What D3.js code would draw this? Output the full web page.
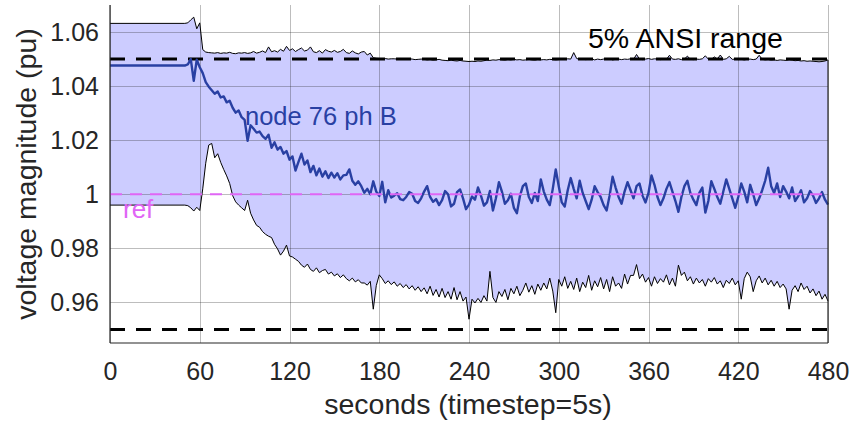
<!DOCTYPE html>
<html>
<head>
<meta charset="utf-8">
<script src="https://cdn.jsdelivr.net/npm/d3@7"></script>
<style>
  body { margin: 0; background: #fff; }
  svg { display: block; }
</style>
</head>
<body>
<div id="chart"></div>
<script>
// ── DATA ──────────────────────────────────────────────────────────────────
// time (s): first sample, then every 2 s from 50 to 480
const time = [0].concat(d3.range(50, 481, 2));

// max voltage over all nodes
const upper = [1.0632,
  1.0632, 1.0634, 1.0645, 1.0655, 1.0612, 1.0634, 1.0535, 1.0526, 1.0524, 1.0523,
  1.0522, 1.0524, 1.0521, 1.0523, 1.0522, 1.0525, 1.0521, 1.0520, 1.0523, 1.0522,
  1.0524, 1.0521, 1.0523, 1.0528, 1.0522, 1.0525, 1.0530, 1.0524, 1.0545, 1.0527,
  1.0531, 1.0526, 1.0536, 1.0529, 1.0547, 1.0532, 1.0538, 1.0528, 1.0535, 1.0541,
  1.0530, 1.0533, 1.0545, 1.0527, 1.0524, 1.0531, 1.0522, 1.0535, 1.0529, 1.0526,
  1.0532, 1.0525, 1.0528, 1.0536, 1.0524, 1.0521, 1.0530, 1.0523, 1.0519, 1.0526,
  1.0528, 1.0515, 1.0522, 1.0505, 1.0503, 1.0502, 1.0501, 1.0502, 1.0500, 1.0501,
  1.0501, 1.0500, 1.0502, 1.0500, 1.0499, 1.0501, 1.0500, 1.0498, 1.0499, 1.0500,
  1.0499, 1.0497, 1.0498, 1.0496, 1.0497, 1.0499, 1.0496, 1.0495, 1.0494, 1.0496,
  1.0494, 1.0493, 1.0495, 1.0493, 1.0492, 1.0491, 1.0492, 1.0491, 1.0493, 1.0492,
  1.0494, 1.0496, 1.0495, 1.0497, 1.0496, 1.0498, 1.0497, 1.0496, 1.0498, 1.0497,
  1.0499, 1.0497, 1.0498, 1.0496, 1.0497, 1.0499, 1.0497, 1.0496, 1.0498, 1.0497,
  1.0498, 1.0497, 1.0499, 1.0498, 1.0497, 1.0498, 1.0500, 1.0499, 1.0501, 1.0500,
  1.0524, 1.0502, 1.0499, 1.0500, 1.0498, 1.0499, 1.0501, 1.0497, 1.0500, 1.0498,
  1.0500, 1.0499, 1.0501, 1.0497, 1.0499, 1.0500, 1.0498, 1.0500, 1.0499, 1.0501,
  1.0499, 1.0517, 1.0500, 1.0498, 1.0500, 1.0502, 1.0499, 1.0501, 1.0500, 1.0498,
  1.0501, 1.0499, 1.0514, 1.0500, 1.0499, 1.0501, 1.0498, 1.0500, 1.0511, 1.0499,
  1.0498, 1.0500, 1.0499, 1.0501, 1.0512, 1.0500, 1.0499, 1.0508, 1.0500, 1.0515,
  1.0499, 1.0501, 1.0510, 1.0499, 1.0500, 1.0498, 1.0499, 1.0497, 1.0499, 1.0500,
  1.0498, 1.0500, 1.0514, 1.0499, 1.0497, 1.0498, 1.0496, 1.0497, 1.0495, 1.0497,
  1.0496, 1.0495, 1.0497, 1.0496, 1.0494, 1.0495, 1.0493, 1.0494, 1.0492, 1.0493,
  1.0492, 1.0491, 1.0490, 1.0491, 1.0493, 1.0497];

// min voltage over all nodes
const lower = [0.9960,
  0.9960, 0.9958, 0.9950, 0.9938, 0.9952, 0.9940, 1.0020, 1.0115, 1.0182, 1.0188,
  1.0135, 1.0150, 1.0118, 1.0092, 1.0068, 1.0040, 0.9995, 0.9972, 0.9960, 0.9950,
  0.9940, 0.9978, 0.9930, 0.9905, 0.9885, 0.9878, 0.9862, 0.9852, 0.9845, 0.9840,
  0.9815, 0.9798, 0.9775, 0.9790, 0.9812, 0.9772, 0.9768, 0.9760, 0.9752, 0.9738,
  0.9730, 0.9742, 0.9722, 0.9715, 0.9728, 0.9710, 0.9718, 0.9722, 0.9705, 0.9712,
  0.9698, 0.9706, 0.9692, 0.9702, 0.9688, 0.9680, 0.9690, 0.9676, 0.9684, 0.9672,
  0.9672, 0.9664, 0.9678, 0.9575, 0.9662, 0.9702, 0.9688, 0.9670, 0.9680, 0.9666,
  0.9676, 0.9660, 0.9670, 0.9655, 0.9666, 0.9650, 0.9662, 0.9645, 0.9658, 0.9640,
  0.9654, 0.9632, 0.9660, 0.9626, 0.9648, 0.9620, 0.9652, 0.9618, 0.9640, 0.9612,
  0.9655, 0.9610, 0.9640, 0.9605, 0.9620, 0.9538, 0.9612, 0.9598, 0.9615, 0.9600,
  0.9625, 0.9605, 0.9715, 0.9618, 0.9600, 0.9640, 0.9622, 0.9648, 0.9610, 0.9652,
  0.9632, 0.9660, 0.9625, 0.9645, 0.9672, 0.9638, 0.9662, 0.9630, 0.9668, 0.9645,
  0.9672, 0.9650, 0.9690, 0.9642, 0.9562, 0.9685, 0.9660, 0.9695, 0.9652, 0.9678,
  0.9648, 0.9690, 0.9640, 0.9675, 0.9655, 0.9700, 0.9645, 0.9680, 0.9658, 0.9692,
  0.9650, 0.9685, 0.9640, 0.9695, 0.9660, 0.9672, 0.9652, 0.9705, 0.9668, 0.9700,
  0.9700, 0.9740, 0.9688, 0.9705, 0.9675, 0.9692, 0.9660, 0.9695, 0.9670, 0.9688,
  0.9675, 0.9702, 0.9665, 0.9690, 0.9660, 0.9738, 0.9700, 0.9712, 0.9680, 0.9695,
  0.9668, 0.9690, 0.9672, 0.9685, 0.9660, 0.9688, 0.9675, 0.9692, 0.9668, 0.9680,
  0.9655, 0.9682, 0.9670, 0.9690, 0.9665, 0.9680, 0.9612, 0.9688, 0.9712, 0.9695,
  0.9640, 0.9680, 0.9698, 0.9672, 0.9690, 0.9665, 0.9682, 0.9660, 0.9678, 0.9655,
  0.9668, 0.9650, 0.9575, 0.9645, 0.9662, 0.9640, 0.9672, 0.9648, 0.9660, 0.9635,
  0.9650, 0.9625, 0.9642, 0.9612, 0.9630, 0.9605];

// node 76 phase B
const node76 = [1.0476,
  1.0476, 1.0480, 1.0500, 1.0420, 1.0498, 1.0470, 1.0448, 1.0415, 1.0398, 1.0385,
  1.0372, 1.0380, 1.0358, 1.0362, 1.0340, 1.0346, 1.0320, 1.0302, 1.0310, 1.0285,
  1.0275, 1.0198, 1.0255, 1.0242, 1.0228, 1.0232, 1.0215, 1.0205, 1.0220, 1.0172,
  1.0192, 1.0165, 1.0175, 1.0150, 1.0160, 1.0128, 1.0140, 1.0088, 1.0120, 1.0150,
  1.0110, 1.0125, 1.0082, 1.0105, 1.0070, 1.0095, 1.0065, 1.0085, 1.0060, 1.0080,
  1.0062, 1.0078, 1.0055, 1.0070, 1.0072, 1.0092, 1.0050, 1.0035, 1.0048, 1.0030,
  1.0006, 1.0020, 1.0000, 1.0048, 1.0010, 0.9994, 1.0046, 0.9970, 1.0015, 0.9988,
  0.9995, 1.0004, 0.9982, 0.9978, 0.9990, 1.0008, 1.0002, 0.9975, 0.9968, 0.9985,
  1.0010, 1.0030, 0.9990, 0.9972, 0.9982, 0.9960, 0.9978, 1.0012, 1.0000, 0.9955,
  0.9965, 1.0008, 1.0018, 0.9985, 0.9945, 0.9962, 0.9992, 0.9980, 1.0025, 0.9995,
  0.9958, 0.9970, 1.0012, 0.9940, 0.9985, 1.0045, 1.0010, 0.9965, 0.9978, 1.0002,
  0.9950, 0.9930, 0.9992, 1.0030, 1.0040, 0.9990, 0.9968, 1.0005, 0.9975, 1.0055,
  1.0010, 0.9980, 0.9960, 1.0020, 1.0092, 1.0030, 0.9970, 0.9955, 1.0015, 1.0060,
  1.0020, 0.9985, 1.0050, 1.0005, 0.9975, 0.9945, 0.9980, 1.0030, 1.0008, 0.9990,
  0.9960, 0.9940, 0.9995, 1.0065, 1.0025, 0.9990, 0.9965, 1.0010, 1.0045, 1.0015,
  0.9985, 1.0030, 1.0040, 0.9995, 0.9970, 1.0005, 1.0070, 1.0035, 0.9990, 0.9960,
  0.9985, 1.0020, 1.0045, 1.0010, 0.9975, 0.9935, 0.9990, 1.0030, 1.0050, 1.0005,
  0.9980, 0.9960, 1.0005, 1.0025, 0.9932, 0.9975, 1.0048, 1.0020, 0.9990, 0.9965,
  1.0010, 1.0055, 1.0020, 0.9985, 0.9950, 0.9990, 1.0040, 1.0010, 0.9970, 1.0035,
  1.0000, 0.9960, 0.9985, 1.0015, 1.0050, 1.0098, 1.0030, 1.0005, 1.0040, 0.9990,
  1.0030, 1.0010, 0.9985, 1.0025, 0.9975, 0.9992, 1.0015, 0.9970, 0.9985, 1.0012,
  0.9995, 0.9968, 0.9985, 1.0008, 0.9980, 0.9962];

const ansiLimits = [0.95, 1.05];
const refValue = 1.0;
const xTicks = [0, 60, 120, 180, 240, 300, 360, 420, 480];
const yTicks = [0.96, 0.98, 1.0, 1.02, 1.04, 1.06];
const yTickLabels = ['0.96', '0.98', '1', '1.02', '1.04', '1.06'];

// ── CHART ─────────────────────────────────────────────────────────────────
const W = 852, H = 424;
const M = { left: 110, right: 24, top: 5, bottom: 81 };
const FONT = 'Liberation Sans, Arial, Helvetica, sans-serif';
const INK = '#262626';

const svg = d3.select('#chart').append('svg').attr('width', W).attr('height', H);

const x = d3.scaleLinear().domain([0, 480]).range([M.left, W - M.right]);
const y = d3.scaleLinear().domain([0.945, 1.07]).range([H - M.bottom, M.top]);

const pts = (vals) => time.map((t, i) => [t, vals[i]]);

// envelope fill
const band = time.map((t, i) => ({ t, lo: lower[i], hi: upper[i] }));
svg.append('path').datum(band)
  .attr('d', d3.area().x(d => x(d.t)).y0(d => y(d.lo)).y1(d => y(d.hi)))
  .attr('fill', '#ccccff');

// grid (drawn on top, semi transparent)
const grid = svg.append('g').attr('stroke', INK).attr('stroke-opacity', 0.3).attr('stroke-width', 1);
xTicks.forEach(v => grid.append('line')
  .attr('x1', Math.round(x(v)) + 0.5).attr('x2', Math.round(x(v)) + 0.5)
  .attr('y1', y.range()[1]).attr('y2', y.range()[0]));
yTicks.forEach(v => grid.append('line')
  .attr('x1', x.range()[0]).attr('x2', x.range()[1])
  .attr('y1', Math.round(y(v)) + 0.5).attr('y2', Math.round(y(v)) + 0.5));

// 5% ANSI limits
ansiLimits.forEach(v => svg.append('line')
  .attr('x1', x(0)).attr('x2', x(480)).attr('y1', y(v)).attr('y2', y(v))
  .attr('stroke', '#000').attr('stroke-width', 3).attr('stroke-dasharray', '15,11'));

// envelope edges
const line = d3.line().x(d => x(d[0])).y(d => y(d[1]));
[upper, lower].forEach(s => svg.append('path').datum(pts(s))
  .attr('d', line).attr('fill', 'none').attr('stroke', '#000').attr('stroke-width', 1));

// node 76 ph B
svg.append('path').datum(pts(node76))
  .attr('d', line).attr('fill', 'none')
  .attr('stroke', '#2940a3').attr('stroke-width', 2.4).attr('stroke-linejoin', 'round');

// reference
svg.append('line')
  .attr('x1', x(0)).attr('x2', x(480)).attr('y1', y(refValue)).attr('y2', y(refValue))
  .attr('stroke', '#e066f5').attr('stroke-width', 2).attr('stroke-dasharray', '12,8');

// axes lines
svg.append('line').attr('x1', x(0)).attr('x2', x(0))
  .attr('y1', y.range()[1]).attr('y2', y.range()[0]).attr('stroke', INK).attr('stroke-width', 1.2);
svg.append('line').attr('x1', x(0)).attr('x2', x(480))
  .attr('y1', y.range()[0]).attr('y2', y.range()[0]).attr('stroke', INK).attr('stroke-width', 1.2);
svg.append('line').attr('x1', x(480)).attr('x2', x(480))
  .attr('y1', y(upper[upper.length - 1])).attr('y2', y.range()[0])
  .attr('stroke', INK).attr('stroke-width', 1.2);

// tick labels
const xAx = svg.append('g').attr('transform', `translate(0,${y.range()[0]})`)
  .call(d3.axisBottom(x).tickValues(xTicks).tickSize(0).tickPadding(19));
const yAx = svg.append('g').attr('transform', `translate(${x(0)},0)`)
  .call(d3.axisLeft(y).tickValues(yTicks).tickFormat((d, i) => yTickLabels[i]).tickSize(0).tickPadding(11));
[xAx, yAx].forEach(g => {
  g.select('.domain').remove();
  g.selectAll('text').attr('font-family', FONT).attr('font-size', 25).attr('fill', INK);
});

// axis titles
svg.append('text').attr('x', 468).attr('y', 414).attr('text-anchor', 'middle')
  .attr('font-family', FONT).attr('font-size', 28.5).attr('fill', INK)
  .text('seconds (timestep=5s)');
svg.append('text').attr('transform', 'translate(36,174) rotate(-90)').attr('text-anchor', 'middle')
  .attr('font-family', FONT).attr('font-size', 28.5).attr('fill', INK)
  .text('voltage magnitude (pu)');

// annotations
svg.append('text').attr('x', 588).attr('y', 48)
  .attr('font-family', FONT).attr('font-size', 28.5).attr('fill', '#000').text('5% ANSI range');
svg.append('text').attr('x', 245).attr('y', 125)
  .attr('font-family', FONT).attr('font-size', 25.5).attr('fill', '#2940a3').text('node 76 ph B');
svg.append('text').attr('x', 123).attr('y', 218)
  .attr('font-family', FONT).attr('font-size', 26).attr('fill', '#e066f5').text('ref');
</script>
</body>
</html>
